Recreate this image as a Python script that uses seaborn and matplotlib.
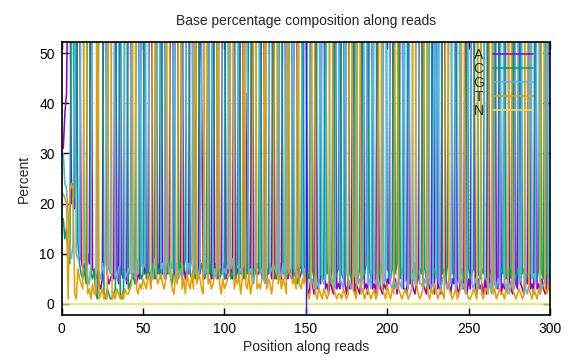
import numpy as np
import pandas as pd
import matplotlib
matplotlib.use("Agg")
import matplotlib.pyplot as plt
import seaborn as sns

# --- data: percent of each base at every read position (1..300) ---
positions = list(range(1, 301))

pct_A = [
    31, 38, 42, 70, 76, 20, 24, 19, 27, 72,
    74, 9, 7, 8, 6, 10, 8, 80, 7, 6,
    5, 6, 4, 3, 5, 82, 78, 6, 4, 5,
    6, 5, 83, 7, 4, 79, 6, 5, 7, 4,
    84, 79, 6, 5, 7, 4, 6, 5, 81, 77,
    6, 7, 5, 80, 84, 6, 7, 5, 8, 6,
    82, 6, 7, 5, 8, 6, 79, 85, 7, 5,
    5, 7, 6, 81, 8, 5, 7, 6, 83, 78,
    6, 8, 5, 7, 80, 39, 5, 7, 6, 8,
    7, 5, 84, 6, 8, 5, 7, 6, 79, 82,
    5, 7, 6, 8, 5, 80, 6, 7, 5, 83,
    79, 6, 5, 42, 7, 6, 84, 5, 7, 6,
    6, 8, 82, 78, 5, 7, 6, 8, 5, 80,
    5, 7, 6, 8, 5, 81, 77, 6, 5, 7,
    6, 5, 80, 84, 7, 5, 6, 8, 82, 78,
    3, 2, 5, 4, 2, 81, 3, 5, 4, 78,
    82, 3, 4, 2, 5, 3, 2, 80, 3, 4,
    3, 83, 79, 4, 2, 5, 3, 4, 81, 2,
    4, 3, 2, 5, 82, 3, 4, 2, 79, 84,
    3, 4, 2, 80, 5, 3, 2, 4, 3, 5,
    4, 80, 84, 3, 5, 2, 4, 79, 82, 3,
    3, 2, 83, 4, 5, 3, 2, 4, 5, 80,
    81, 4, 3, 2, 5, 3, 4, 83, 2, 79,
    3, 4, 2, 82, 78, 5, 3, 4, 2, 5,
    4, 80, 3, 2, 5, 4, 3, 84, 2, 5,
    3, 83, 79, 4, 2, 5, 3, 4, 2, 5,
    2, 82, 4, 3, 5, 80, 4, 3, 84, 2,
    4, 3, 81, 84, 5, 3, 2, 80, 4, 3,
    82, 4, 3, 2, 5, 4, 79, 3, 4, 2,
    84, 3, 4, 2, 5, 3, 2, 4, 80, 83,
]

pct_C = [
    17, 13, 15, 10, 8, 68, 62, 21, 74, 12,
    8, 6, 5, 7, 4, 78, 82, 6, 5, 7,
    2, 1, 80, 85, 77, 2, 1, 3, 2, 1,
    1, 2, 3, 81, 84, 2, 1, 3, 78, 82,
    3, 4, 5, 6, 4, 80, 83, 7, 5, 6,
    81, 5, 7, 6, 4, 8, 5, 79, 6, 7,
    5, 80, 84, 7, 6, 9, 5, 4, 8, 78,
    79, 6, 8, 5, 7, 9, 82, 77, 6, 5,
    7, 5, 82, 79, 6, 8, 7, 5, 9, 83,
    6, 8, 5, 80, 78, 7, 5, 6, 8, 5,
    82, 78, 7, 5, 6, 8, 5, 9, 81, 6,
    6, 5, 8, 6, 80, 83, 5, 7, 6, 8,
    7, 81, 5, 6, 8, 5, 7, 79, 84, 6,
    6, 5, 8, 80, 83, 6, 7, 5, 8, 79,
    81, 7, 6, 5, 4, 8, 7, 79, 5, 6,
    6, 5, 82, 7, 5, 6, 80, 84, 6, 5,
    5, 80, 6, 8, 4, 7, 83, 5, 6, 7,
    84, 6, 5, 7, 80, 78, 6, 5, 7, 82,
    6, 5, 7, 81, 5, 6, 8, 80, 7, 5,
    7, 83, 79, 5, 6, 8, 6, 81, 84, 7,
    6, 5, 7, 82, 6, 8, 80, 5, 7, 6,
    82, 79, 6, 5, 7, 6, 8, 5, 6, 7,
    6, 84, 7, 5, 6, 80, 82, 5, 7, 6,
    5, 81, 83, 6, 7, 5, 8, 80, 79, 6,
    6, 5, 79, 84, 6, 7, 5, 6, 82, 7,
    5, 6, 7, 80, 84, 6, 5, 7, 6, 81,
    84, 5, 6, 7, 5, 6, 81, 79, 5, 7,
    6, 83, 5, 6, 7, 5, 82, 6, 5, 7,
    5, 80, 6, 7, 5, 6, 5, 7, 84, 81,
    6, 5, 7, 82, 6, 5, 80, 6, 5, 7,
]

pct_G = [
    30, 24, 23, 18, 10, 9, 12, 58, 10, 9,
    10, 76, 81, 9, 7, 5, 4, 8, 79, 84,
    83, 7, 6, 5, 8, 6, 9, 80, 7, 6,
    80, 86, 6, 5, 7, 8, 81, 84, 5, 6,
    7, 6, 82, 8, 5, 9, 6, 79, 8, 7,
    8, 83, 78, 7, 6, 5, 9, 6, 82, 80,
    7, 8, 5, 79, 9, 6, 8, 7, 83, 6,
    8, 5, 7, 6, 80, 84, 5, 8, 7, 9,
    82, 6, 7, 5, 8, 50, 84, 6, 7, 5,
    81, 83, 6, 7, 5, 8, 80, 85, 6, 7,
    6, 8, 79, 7, 9, 5, 82, 78, 6, 7,
    7, 8, 82, 46, 5, 7, 6, 4, 8, 81,
    80, 6, 7, 5, 4, 83, 79, 6, 7, 8,
    7, 6, 82, 5, 6, 8, 5, 84, 7, 6,
    5, 82, 7, 6, 8, 80, 83, 6, 7, 5,
    84, 79, 4, 5, 3, 6, 4, 3, 82, 5,
    4, 5, 81, 78, 6, 4, 5, 3, 84, 80,
    5, 4, 3, 82, 6, 5, 4, 3, 5, 6,
    80, 4, 5, 3, 6, 83, 78, 4, 5, 3,
    82, 5, 4, 6, 3, 5, 80, 4, 5, 79,
    81, 4, 3, 5, 4, 3, 5, 4, 3, 84,
    5, 4, 3, 80, 84, 5, 4, 78, 83, 4,
    4, 3, 5, 4, 79, 5, 3, 4, 81, 5,
    84, 4, 3, 5, 6, 4, 3, 5, 4, 80,
    81, 3, 4, 5, 80, 3, 4, 2, 5, 83,
    82, 4, 3, 5, 4, 3, 6, 79, 84, 5,
    5, 3, 4, 2, 83, 4, 3, 5, 4, 80,
    80, 4, 3, 5, 2, 4, 5, 3, 84, 79,
    4, 5, 83, 78, 3, 2, 4, 82, 5, 6,
    4, 81, 79, 5, 3, 4, 5, 84, 3, 4,
]

pct_T = [
    22, 21, 20, 1, 22, 24, 23, 2, 1, 7,
    5, 4, 3, 76, 83, 2, 3, 1, 4, 2,
    2, 81, 1, 2, 3, 1, 2, 1, 79, 84,
    1, 2, 1, 3, 2, 1, 2, 1, 3, 2,
    2, 3, 4, 78, 82, 3, 2, 4, 3, 5,
    4, 3, 6, 5, 3, 77, 81, 6, 4, 5,
    6, 4, 3, 5, 78, 80, 5, 3, 2, 6,
    4, 81, 78, 3, 5, 2, 6, 4, 3, 6,
    3, 80, 4, 6, 5, 3, 2, 81, 77, 4,
    5, 3, 4, 6, 7, 79, 4, 2, 5, 3,
    4, 5, 6, 81, 79, 3, 5, 4, 6, 2,
    5, 80, 4, 3, 6, 2, 4, 82, 78, 3,
    4, 3, 5, 6, 81, 3, 5, 4, 2, 5,
    79, 83, 4, 6, 3, 5, 4, 2, 80, 6,
    6, 4, 5, 3, 80, 4, 3, 5, 4, 7,
    2, 1, 3, 80, 83, 2, 1, 3, 2, 1,
    3, 2, 1, 2, 79, 82, 3, 2, 1, 2,
    2, 1, 3, 2, 1, 2, 80, 84, 3, 2,
    1, 79, 82, 2, 3, 1, 2, 3, 2, 1,
    2, 3, 1, 2, 78, 83, 3, 2, 1, 4,
    2, 1, 3, 2, 80, 77, 3, 2, 1, 2,
    3, 2, 1, 2, 3, 81, 79, 4, 2, 1,
    2, 3, 80, 84, 2, 1, 3, 2, 4, 3,
    1, 2, 3, 2, 1, 81, 84, 3, 2, 1,
    2, 3, 1, 2, 3, 78, 82, 3, 2, 1,
    1, 2, 3, 2, 1, 80, 83, 2, 1, 3,
    3, 2, 79, 82, 2, 3, 1, 2, 3, 2,
    2, 1, 3, 2, 81, 80, 3, 2, 1, 2,
    3, 2, 1, 2, 80, 84, 3, 2, 1, 3,
    2, 1, 3, 2, 83, 79, 3, 2, 4, 2,
]

pct_N = [0] * 300

bases = ["A", "C", "G", "T", "N"]
colors = {"A": "#9400d3", "C": "#009e73", "G": "#56b4e9", "T": "#e69f00", "N": "#f0e442"}
read_split = 150

df = pd.DataFrame({"position": positions, "A": pct_A, "C": pct_C,
                   "G": pct_G, "T": pct_T, "N": pct_N})

sns.set_theme(style="ticks")
plt.rcParams["font.family"] = ["Liberation Sans", "DejaVu Sans"]

fig, ax = plt.subplots(figsize=(5.76, 3.6), dpi=100)
fig.subplots_adjust(left=0.107, right=0.955, top=0.883, bottom=0.125)

for b in bases:
    sns.lineplot(data=df, x="position", y=b, color=colors[b], lw=1.15,
                 label=b, ax=ax, estimator=None, sort=False, legend=False)

# boundary between first and second read
ax.axvline(read_split, color="#1f1fff", lw=1.0, zorder=3)

ax.set_xlim(0, 300)
ax.set_ylim(-2.2, 52.2)
ax.set_xticks(range(0, 301, 50))
ax.set_yticks(range(0, 51, 10))
ax.grid(True, color="#c0c0c0", linestyle=(0, (1, 3)), lw=0.8)
ax.set_axisbelow(True)
ax.tick_params(direction="in", top=True, right=True, length=5, width=1,
               labelsize=10, colors="black", pad=5)
for s in ax.spines.values():
    s.set_linewidth(1.2)
    s.set_color("black")

ax.set_title("Base percentage composition along reads", fontsize=10, pad=12)
ax.set_xlabel("Position along reads", fontsize=10, labelpad=3)
ax.set_ylabel("Percent", fontsize=10, labelpad=6)

handles, labels = ax.get_legend_handles_labels()
leg = ax.legend(handles[:5], labels[:5], loc="upper right", bbox_to_anchor=(0.965, 0.98),
                frameon=False, markerfirst=False, handlelength=2.9, handletextpad=0.65,
                labelspacing=0.0, borderpad=0, borderaxespad=0, fontsize=10)
leg.set_zorder(5)

plt.savefig("out.png", dpi=100)
